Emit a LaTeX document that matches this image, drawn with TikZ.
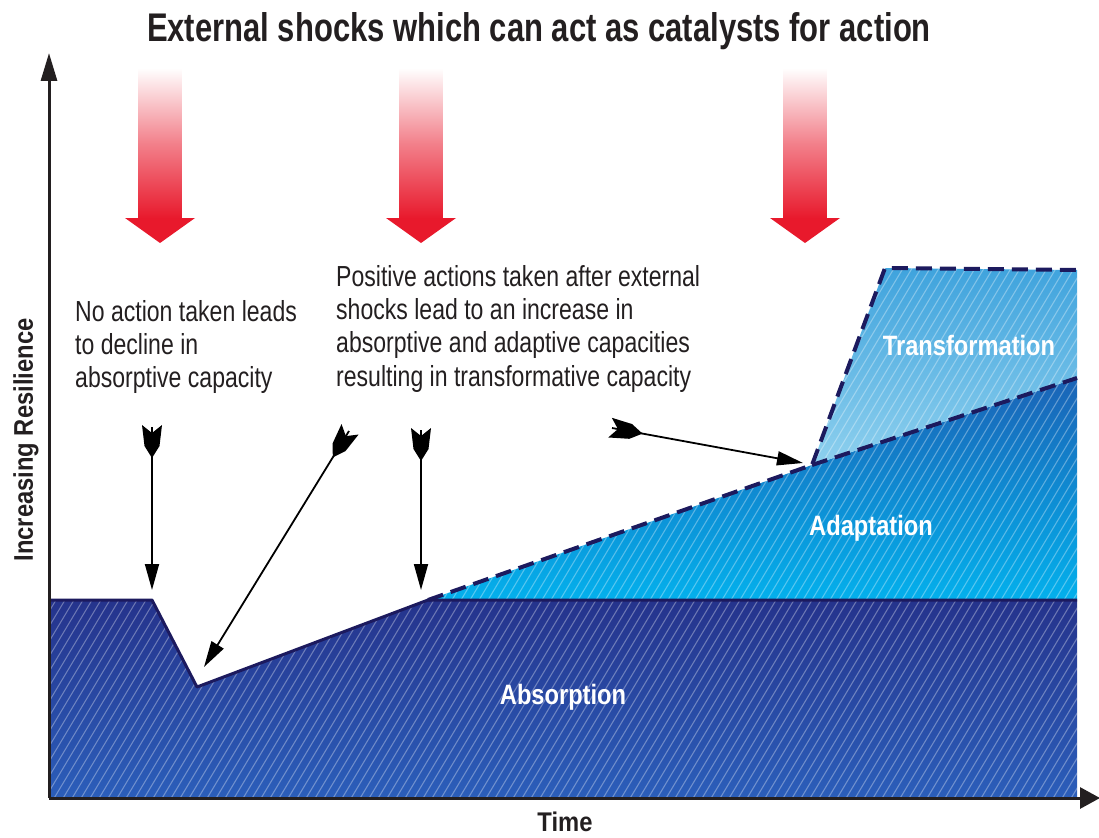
\documentclass[tikz,border=0pt]{standalone}
\usepackage{fontspec}
\setmainfont{Liberation Sans}
\newfontfamily\titlef{Liberation Sans}[FakeStretch=0.775]
\newfontfamily\bodyf{Liberation Sans}[FakeStretch=0.795]
\newfontfamily\labf{Liberation Sans}[FakeStretch=0.845]
\newfontfamily\axisf{Liberation Sans}[FakeStretch=0.88]
\usetikzlibrary{arrows.meta,decorations.markings}
\definecolor{shockred}{HTML}{E8192C}
\definecolor{navy}{HTML}{1C1A5E}
\definecolor{ink}{HTML}{231F20}
\definecolor{absTop}{HTML}{25338C}
\definecolor{absBot}{HTML}{2B5EBA}
\definecolor{adaTop}{HTML}{1B63B6}
\definecolor{adaBot}{HTML}{03B0EC}
\definecolor{traTop}{HTML}{3FA3DD}
\definecolor{traBot}{HTML}{8ED0EE}
\newcommand\hatchlines{\foreach \i in {-700,-691,...,1100} \draw[white, opacity=0.32, line width=1.1pt] (\i,840) -- ++(480,-800);}
\newcommand\shockarrow[1]{%
  \shade[top color=white, bottom color=shockred, middle color=shockred!55!white] (#1-21.5,68) rectangle (#1+21.5,218.5);
  \fill[shockred] (#1-35,218) -- (#1+35,218) -- (#1,243) -- cycle;}
\begin{document}
\begin{tikzpicture}[x=1pt,y=-1pt,
  fletched/.style={draw=black, line width=1.8pt, -{Triangle[length=26pt,width=14pt]},
    postaction={decorate},
    decoration={markings, mark=at position 0pt with {\fill[black] (-2,10) -- (6,0) -- (-2,-10) -- (19,-7.5) -- (31,0) -- (19,7.5) -- cycle;}}},
  axisline/.style={draw=ink, line width=3pt},
  region border/.style={draw=navy, line width=3pt, line join=round},
  capline/.style={draw=navy, line width=4pt, dash pattern=on 16pt off 8pt},
  bodytext/.style={inner sep=0pt, anchor=north west, align=left, text=ink, font=\bodyf\fontsize{29}{33.3}\selectfont},
  regionlabel/.style={text=white, font=\labf\bfseries\fontsize{28}{30}\selectfont}]
\useasboundingbox (0,0) rectangle (1099,837);

% regions
\begin{scope}
  \clip (49,600) -- (152,600) -- (197,687) -- (428,600) -- (1077,600) -- (1077,797) -- (49,797) -- cycle;
  \shade[top color=absTop, bottom color=absBot] (49,600) rectangle (1077,797);
  \hatchlines
\end{scope}
\begin{scope}
  \clip (428,600) -- (812,465) -- (1077,378) -- (1077,600) -- cycle;
  \shade[top color=adaTop, bottom color=adaBot] (428,378) rectangle (1077,600);
  \hatchlines
\end{scope}
\begin{scope}
  \clip (812,465) -- (885,268) -- (1077,270) -- (1077,378) -- cycle;
  \shade[top color=traTop, bottom color=traBot] (812,268) rectangle (1077,465);
  \hatchlines
\end{scope}

\draw[region border] (49,600) -- (152,600) -- (197,687) -- (428,600) -- (1077,600);
\draw[capline] (428,600) -- (812,465) -- (885,268) -- (1077,270);
\draw[capline] (812,465) -- (1077,378);

% shocks
\shockarrow{160}
\shockarrow{421}
\shockarrow{805}

% axes
\coordinate (O) at (49,798);
\coordinate (ytop) at (49,53);
\coordinate (xend) at (1100,798);
\draw[axisline, -{Triangle[length=28pt,width=16pt]}] (O) -- (ytop);
\draw[axisline, -{Triangle[length=20pt,width=21pt]}] (O) -- (xend);

% pointer arrows
\coordinate (t1) at (152,427); \coordinate (h1) at (152,590);
\coordinate (t2) at (349,431); \coordinate (h2) at (204,667);
\coordinate (t3) at (421,430); \coordinate (h3) at (421,590);
\coordinate (t4) at (612,428); \coordinate (h4) at (803,463);
\draw[fletched] (t1) -- (h1);
\draw[fletched] (t2) -- (h2);
\draw[fletched] (t3) -- (h3);
\draw[fletched] (t4) -- (h4);

% texts
\node[text=ink, font=\titlef\bfseries\fontsize{40}{42}\selectfont] (title) at (539,31) {External shocks which can act as catalysts for action};
\node[bodytext] (noaction) at (75,300) {No action taken leads\\to decline in\\absorptive capacity};
\node[bodytext] (positive) at (336,265) {Positive actions taken after external\\shocks lead to an increase in\\absorptive and adaptive capacities\\resulting in transformative capacity};
\node[regionlabel] (transf) at (969,345) {Transformation};
\node[regionlabel] (adapt) at (871,528) {Adaptation};
\node[regionlabel] (absorb) at (563,697) {Absorption};
\node[text=ink, font=\axisf\bfseries\fontsize{27}{29}\selectfont] (time) at (565,822) {Time};
\node[text=ink, rotate=90, font=\axisf\bfseries\fontsize{27}{29}\selectfont] (resil) at (26,440) {Increasing Resilience};
\end{tikzpicture}
\end{document}
